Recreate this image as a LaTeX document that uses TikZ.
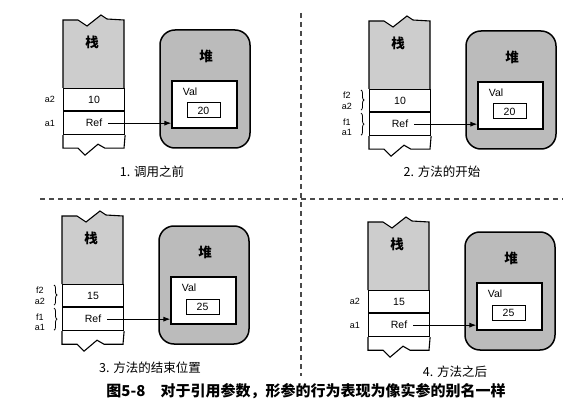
\documentclass[tikz,border=0pt]{standalone}
\usepackage{fontspec}
\setmainfont{Liberation Sans}
\newfontfamily\cjk{Noto Sans CJK SC}
\usepackage{tikz}
\usetikzlibrary{arrows.meta,positioning,decorations.pathreplacing}
\definecolor{stackgray}{HTML}{CDCDCD}
\definecolor{heapgray}{HTML}{BBBBBB}
\definecolor{dashgray}{HTML}{4A4A4A}
% one snapshot: stack with two slots, heap with the object
\newcommand{\refpanel}[4]{%
\begin{scope}[shift={#2}]
\filldraw[fill=stackgray,line width=1.1pt] (0,68) -- (0,0) -- (15,0) -- (24,6) -- (38,-5) -- (44,-1) -- (61,0) -- (61,68);
\node[cell,anchor=north west] (#1-v) at (0,68) {#3};
\node[cell,minimum height=23pt,below=0pt of #1-v] (#1-ref) {Ref};
\draw[line width=1.1pt] (#1-ref.south west) -- ++(0,13) -- ++(15,0) -- ++(7,7) -- ++(13,-11) -- ++(7,4) -- ++(19,0) -- (#1-ref.south east);
\node[hz] (#1-stk) at (29,22.5) {栈};
\node[heap] (#1-heap) at (142,69) {};
\node[hz] (#1-hp) at (143,36) {堆};
\node[obj] (#1-obj) at (141.5,84.5) {};
\node[txt] (#1-val) at (127,72) {Val};
\node[valbox] (#1-num) at (140.5,90.5) {#4};
\draw[->,line width=1pt] ([xshift=14pt]#1-ref.center) -- (#1-ref -| #1-obj.west);
\end{scope}}

\begin{document}
\begin{tikzpicture}[x=1pt,y=-1pt,>={Latex[length=7pt,width=5pt]},
cell/.style={draw,fill=white,line width=1.1pt,minimum width=61pt,minimum height=22pt,inner sep=0pt,font=\fontsize{10.5}{12}\selectfont},
heap/.style={draw,fill=heapgray,line width=1.5pt,rounded corners=15pt,minimum width=90pt,minimum height=118pt},
obj/.style={draw,fill=white,line width=1.1pt,minimum width=65pt,minimum height=47pt},
valbox/.style={draw,fill=white,line width=1pt,minimum width=33pt,minimum height=15pt,inner sep=0pt,font=\fontsize{10.5}{12}\selectfont},
txt/.style={inner sep=0pt,font=\fontsize{10.5}{12}\selectfont},
hz/.style={inner sep=0pt,font=\cjk\bfseries\fontsize{13.5}{15}\selectfont},
lbl/.style={inner sep=0pt,align=center,font=\fontsize{9}{10.5}\selectfont},
captxt/.style={inner sep=0pt,font=\cjk\fontsize{12.5}{14}\selectfont},
brc/.style={decorate,decoration={brace,amplitude=3pt},line width=0.8pt},
divider/.style={dashgray,line width=1.4pt,dash pattern=on 5pt off 4pt}]
\useasboundingbox (0,0) rectangle (576,409);
% separators
\draw[divider] (40,199) -- (563,199);
\draw[divider] (301,13) -- (301,376);
% 1. before the call
\refpanel{p1}{(63,20)}{10}{20}
\node[lbl,left=8pt of p1-v] (p1-a2) {a2};
\node[lbl,left=8pt of p1-ref] (p1-a1) {a1};
\node[captxt] (c1) at (152,172) {1. 调用之前};
% 2. method starts
\refpanel{p2}{(369,21)}{10}{20}
\draw[brc] ([xshift=-8pt,yshift=-1pt]p2-v.north west) -- ([xshift=-8pt,yshift=2pt]p2-v.south west);
\draw[brc] ([xshift=-8pt,yshift=-1pt]p2-ref.north west) -- ([xshift=-8pt,yshift=1pt]p2-ref.south west);
\node[lbl,left=17pt of p2-v] (p2-a2) {f2\\a2};
\node[lbl,left=17pt of p2-ref,yshift=-3pt] (p2-a1) {f1\\a1};
\node[captxt] (c2) at (442,172) {2. 方法的开始};
% 3. method ends
\refpanel{p3}{(62,216)}{15}{25}
\draw[brc] ([xshift=-8pt,yshift=-1pt]p3-v.north west) -- ([xshift=-8pt,yshift=2pt]p3-v.south west);
\draw[brc] ([xshift=-8pt,yshift=-1pt]p3-ref.north west) -- ([xshift=-8pt,yshift=1pt]p3-ref.south west);
\node[lbl,left=17pt of p3-v] (p3-a2) {f2\\a2};
\node[lbl,left=17pt of p3-ref,yshift=-3pt] (p3-a1) {f1\\a1};
\node[captxt] (c3) at (150,368) {3. 方法的结束位置};
% 4. after the method
\refpanel{p4}{(368,222)}{15}{25}
\node[lbl,left=8pt of p4-v] (p4-a2) {a2};
\node[lbl,left=8pt of p4-ref] (p4-a1) {a1};
\node[captxt] (c4) at (455,372) {4. 方法之后};
% figure caption
\node[inner sep=0pt,font=\cjk\bfseries\fontsize{15}{17}\selectfont] (title) at (306,391) {图5-8\quad 对于引用参数，形参的行为表现为像实参的别名一样};
\end{tikzpicture}
\end{document}
